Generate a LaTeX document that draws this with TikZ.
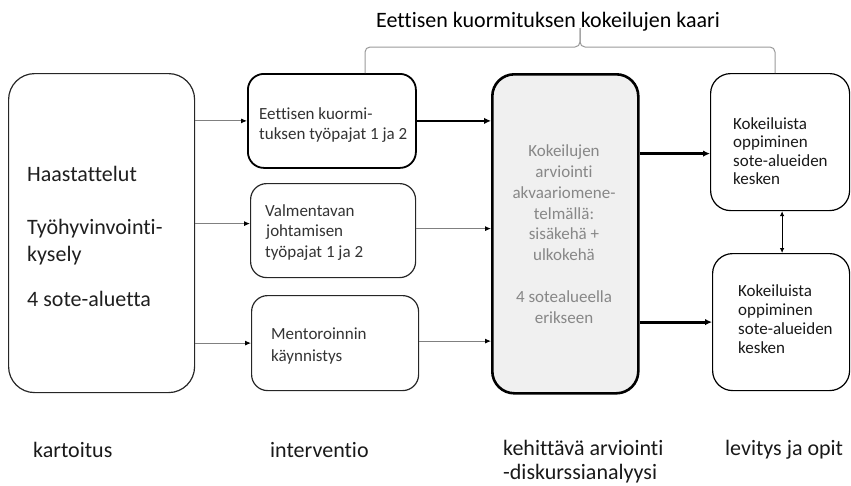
\documentclass[tikz,border=0pt]{standalone}
\usepackage{fontspec}
\setmainfont{Carlito}[Ligatures=NoCommon]
\usetikzlibrary{arrows.meta}
\begin{document}
\begin{tikzpicture}[x=1pt,y=-1pt,
  stagebox/.style={draw=black!85, line width=1.2pt, anchor=north west, inner sep=0pt, rounded corners=16pt},
  evalbox/.style={draw=black, line width=2.6pt, fill=black!6, anchor=north west, inner sep=0pt, rounded corners=22pt},
  boxtxt/.style={anchor=west, align=left, inner sep=0pt, text=black!80},
  labeltxt/.style={anchor=west, align=left, inner sep=0pt, text=black!90, font=\fontsize{22}{24}\selectfont},
  thinarrow/.style={-{Latex[length=6pt,width=5pt,color=black]}, draw=black!50, line width=0.9pt},
  thickarrow/.style={-{Latex[length=7pt,width=6.5pt]}, draw=black, line width=2.4pt},
  bracketline/.style={draw=black!40, line width=1pt, rounded corners=5pt}
]
\useasboundingbox (0,0) rectangle (851,485);

% boxes
\node[stagebox, rounded corners=26pt, minimum width=186pt, minimum height=319pt] (kart) at (8,73) {};
\node[stagebox, line width=1.8pt, draw=black, minimum width=168pt, minimum height=94pt] (int1) at (247,73) {};
\node[stagebox, minimum width=165pt, minimum height=94pt] (int2) at (250,183) {};
\node[stagebox, minimum width=167pt, minimum height=95pt] (int3) at (251,295) {};
\node[evalbox, minimum width=146pt, minimum height=319pt] (eval) at (491,73) {};
\node[stagebox, draw=black, rounded corners=20pt, minimum width=139pt, minimum height=137pt] (opp1) at (710,73) {};
\node[stagebox, draw=black, rounded corners=20pt, minimum width=137pt, minimum height=137pt] (opp2) at (712,253) {};

% texts in boxes
\node[boxtxt, text=black!88, font=\fontsize{22}{27}\selectfont] (karttxt) at (27,236)
  {Haastattelut\\[26pt]Työhyvinvointi-\\kysely\\[18pt]4 sote-aluetta};
\node[boxtxt, font=\fontsize{17}{20}\selectfont] (int1txt) at (259,125)
  {Eettisen kuormi-\\tuksen työpajat 1 ja 2};
\node[boxtxt, font=\fontsize{17}{20.5}\selectfont] (int2txt) at (265,232.5)
  {Valmentavan\\\hspace{1pt}johtamisen\\työpajat 1 ja 2};
\node[boxtxt, font=\fontsize{17}{22}\selectfont] (int3txt) at (271,346)
  {Mentoroinnin\\käynnistys};
\node[align=center, inner sep=0pt, text=black!47, font=\fontsize{17}{20.8}\selectfont] (evaltxt) at (564,234)
  {Kokeilujen\\arviointi\\akvaariomene-\\telmällä:\\sisäkehä +\\ulkokehä\\[20.8pt]4 sotealueella\\erikseen};
\node[boxtxt, text=black!90, font=\fontsize{17}{18.5}\selectfont] (opp1txt) at (733,151)
  {Kokeiluista\\oppiminen\\sote-alueiden\\kesken};
\node[boxtxt, text=black!90, font=\fontsize{17}{19}\selectfont] (opp2txt) at (738,319.5)
  {Kokeiluista\\oppiminen\\sote-alueiden\\kesken};

% arrow anchor points
\coordinate (in2) at ([yshift=7pt]int2.west);
\coordinate (out2) at ([yshift=2pt]int2.east);
\coordinate (out3) at ([yshift=2pt]int3.east);
\coordinate (in5) at ([yshift=-11.5pt]opp1.west);
\coordinate (dblTop) at ([xshift=2pt]opp1.south);

% arrows
\draw[thinarrow] (kart.east |- int1.west) -- (int1.west);
\draw[thinarrow] (kart.east |- in2) -- (in2);
\draw[thinarrow] (kart.east |- int3.west) -- (int3.west);
\draw[thickarrow] (int1.east) -- (int1.east -| eval.west);
\draw[thinarrow] (out2) -- (out2 -| eval.west);
\draw[thinarrow] (out3) -- (out3 -| eval.west);
\draw[thickarrow, line width=2.8pt] (eval.east |- in5) -- (in5);
\draw[thickarrow, line width=2.8pt] (eval.east |- opp2.west) -- (opp2.west);
\draw[{Latex[length=5pt,width=4.5pt]}-{Latex[length=5pt,width=4.5pt]}, line width=0.8pt] (dblTop) -- (dblTop |- opp2.north);

% bracket
\coordinate (brL) at (365,73);
\coordinate (brR) at (775,73);
\coordinate (brM) at (580,47);
\coordinate (brTop) at (580,28);
\draw[bracketline] (brL) |- (brM) -- (brTop);
\draw[bracketline] (brR) |- (brM) -- (brTop);
\node[inner sep=0pt, font=\fontsize{22}{24}\selectfont] (title) at (548,22) {Eettisen kuormituksen kokeilujen kaari};

% stage labels
\node[labeltxt] (lab1) at (33,450) {kartoitus};
\node[labeltxt] (lab2) at (270,450) {interventio};
\node[labeltxt] (lab3) at (503,462) {kehittävä arviointi\\-diskurssianalyysi};
\node[labeltxt] (lab4) at (725,450) {levitys ja opit};
\end{tikzpicture}
\end{document}
